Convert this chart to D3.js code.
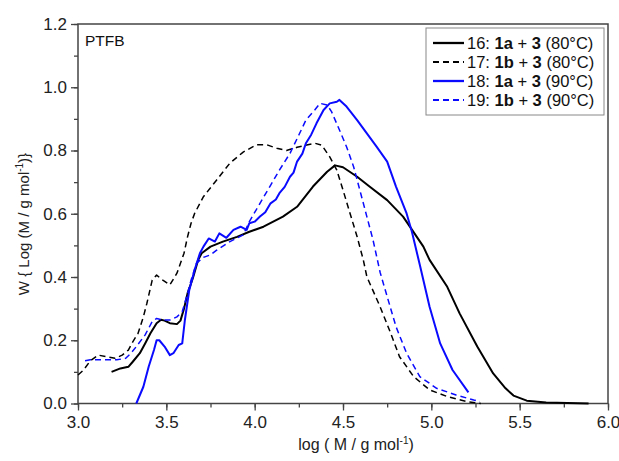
<!DOCTYPE html>
<html><head><meta charset="utf-8">
<script src="https://cdn.jsdelivr.net/npm/d3@7"></script>
<style>
html,body{margin:0;padding:0;background:#fff;}
svg text{font-family:"Liberation Sans",Arial,Helvetica,sans-serif;}
</style></head>
<body><svg id="c" width="619" height="461"></svg>
<script>
// ---- data (log M, W) ----
const s16 = [[3.19,0.10],[3.24,0.111],[3.285,0.116],[3.31,0.132],[3.35,0.159],[3.38,0.19],[3.41,0.222],[3.445,0.254],[3.47,0.265],[3.49,0.262],[3.52,0.254],[3.56,0.251],[3.58,0.262],[3.60,0.30],[3.62,0.348],[3.65,0.396],[3.68,0.454],[3.70,0.475],[3.75,0.496],[3.82,0.512],[3.90,0.527],[3.97,0.543],[4.05,0.559],[4.16,0.591],[4.24,0.622],[4.33,0.686],[4.41,0.733],[4.455,0.753],[4.50,0.747],[4.58,0.717],[4.65,0.686],[4.75,0.643],[4.84,0.591],[4.89,0.550],[4.955,0.496],[4.99,0.454],[5.09,0.369],[5.16,0.285],[5.26,0.180],[5.35,0.095],[5.42,0.048],[5.465,0.025],[5.54,0.009],[5.65,0.003],[5.89,0.0]];
const s17 = [[3.0,0.09],[3.03,0.105],[3.07,0.135],[3.115,0.153],[3.16,0.148],[3.21,0.143],[3.25,0.153],[3.285,0.169],[3.31,0.195],[3.34,0.222],[3.37,0.274],[3.39,0.317],[3.42,0.39],[3.445,0.406],[3.48,0.39],[3.52,0.375],[3.56,0.412],[3.60,0.475],[3.62,0.527],[3.64,0.57],[3.66,0.601],[3.71,0.654],[3.785,0.707],[3.86,0.760],[3.935,0.795],[4.01,0.818],[4.07,0.818],[4.125,0.807],[4.18,0.80],[4.24,0.810],[4.34,0.823],[4.38,0.817],[4.425,0.78],[4.465,0.738],[4.50,0.675],[4.54,0.601],[4.58,0.527],[4.615,0.454],[4.635,0.401],[4.71,0.306],[4.77,0.222],[4.82,0.148],[4.90,0.085],[4.99,0.043],[5.09,0.022],[5.20,0.006],[5.28,0.0]];
const s18 = [[3.33,0.0],[3.37,0.053],[3.40,0.116],[3.43,0.169],[3.445,0.20],[3.46,0.20],[3.49,0.18],[3.52,0.153],[3.54,0.159],[3.57,0.185],[3.59,0.19],[3.605,0.264],[3.63,0.359],[3.66,0.422],[3.69,0.475],[3.71,0.496],[3.74,0.522],[3.775,0.512],[3.80,0.538],[3.84,0.524],[3.88,0.549],[3.92,0.559],[3.955,0.549],[3.97,0.57],[4.00,0.575],[4.03,0.591],[4.06,0.605],[4.09,0.633],[4.12,0.645],[4.14,0.665],[4.17,0.685],[4.20,0.717],[4.22,0.730],[4.24,0.765],[4.27,0.790],[4.29,0.823],[4.32,0.850],[4.35,0.886],[4.39,0.928],[4.425,0.949],[4.465,0.954],[4.48,0.96],[4.52,0.939],[4.58,0.896],[4.635,0.854],[4.69,0.812],[4.75,0.765],[4.80,0.686],[4.86,0.601],[4.89,0.543],[4.935,0.438],[4.99,0.306],[5.05,0.19],[5.12,0.106],[5.21,0.035]];
const s19 = [[3.04,0.135],[3.07,0.138],[3.13,0.138],[3.22,0.138],[3.27,0.143],[3.30,0.159],[3.33,0.18],[3.38,0.217],[3.42,0.259],[3.445,0.269],[3.48,0.264],[3.52,0.264],[3.56,0.274],[3.59,0.29],[3.615,0.338],[3.64,0.39],[3.67,0.443],[3.71,0.462],[3.75,0.470],[3.785,0.485],[3.86,0.512],[3.935,0.533],[3.97,0.575],[4.03,0.633],[4.09,0.690],[4.14,0.738],[4.20,0.791],[4.25,0.849],[4.29,0.896],[4.34,0.928],[4.37,0.949],[4.41,0.944],[4.435,0.923],[4.48,0.865],[4.52,0.812],[4.56,0.749],[4.60,0.665],[4.635,0.591],[4.67,0.517],[4.71,0.415],[4.75,0.338],[4.80,0.243],[4.86,0.159],[4.935,0.085],[5.03,0.048],[5.14,0.027],[5.24,0.011],[5.275,0.006]];
const xTicks = [3.0,3.5,4.0,4.5,5.0,5.5,6.0];
const yTicks = [0.0,0.2,0.4,0.6,0.8,1.0,1.2];
const seriesLabels = [["16: ","1a"," + ","3"," (80°C)"],["17: ","1b"," + ","3"," (80°C)"],["18: ","1a"," + ","3"," (90°C)"],["19: ","1b"," + ","3"," (90°C)"]];
const seriesData = [s16,s17,s18,s19];
const seriesColor = ["#000000","#000000","#0a0aff","#0a0aff"];
const seriesDash = [null,"6,4",null,"6,4"];
const seriesWidth = [2,1.5,2,1.5];

// ---- layout ----
const svg = d3.select("#c");
const L=78,R=608,T=24,B=403.5;
const x = d3.scaleLinear().domain([3,6]).range([L,R]);
const y = d3.scaleLinear().domain([0,1.2]).range([B,T]);
const axisColor="#444";

// minor ticks
const gx = svg.append("g").attr("transform",`translate(0,${B})`)
  .call(d3.axisBottom(x).tickValues(d3.range(3,6.001,0.25)).tickSize(4).tickFormat(""));
const gy = svg.append("g").attr("transform",`translate(${L},0)`)
  .call(d3.axisLeft(y).tickValues(d3.range(0,1.2001,0.1)).tickSize(4).tickFormat(""));
const gx2 = svg.append("g").attr("transform",`translate(0,${B})`)
  .call(d3.axisBottom(x).tickValues(xTicks).tickSize(7).tickPadding(5).tickFormat(d3.format(".1f")));
const gy2 = svg.append("g").attr("transform",`translate(${L},0)`)
  .call(d3.axisLeft(y).tickValues(yTicks).tickSize(7).tickPadding(4).tickFormat(d3.format(".1f")));
[gx,gy,gx2,gy2].forEach(g=>{
  g.selectAll(".domain").remove();
  g.selectAll("line").attr("stroke",axisColor).attr("stroke-width",1.3);
  g.selectAll("text").attr("fill","#222").style("font-size","17px");
});
// frame
svg.append("rect").attr("x",L).attr("y",T).attr("width",R-L).attr("height",B-T)
  .attr("fill","none").attr("stroke",axisColor).attr("stroke-width",1.5);

// curves
const line = d3.line().x(d=>x(d[0])).y(d=>y(d[1]));
seriesData.forEach((s,i)=>{
  svg.append("path").datum(s).attr("d",line).attr("fill","none")
    .attr("stroke",seriesColor[i]).attr("stroke-width",seriesWidth[i])
    .attr("stroke-dasharray",seriesDash[i]).attr("stroke-linejoin","round");
});

// PTFB label
svg.append("text").attr("x",85).attr("y",46).style("font-size","15.5px").attr("fill","#111").text("PTFB");

// legend
const lg = svg.append("g");
lg.append("rect").attr("x",426).attr("y",28).attr("width",178).attr("height",87)
  .attr("fill","#fff").attr("stroke","#888").attr("stroke-width",1);
seriesLabels.forEach((lab,i)=>{
  const yy = 43 + i*19;
  lg.append("line").attr("x1",433).attr("x2",464).attr("y1",yy).attr("y2",yy)
    .attr("stroke",seriesColor[i]).attr("stroke-width",seriesWidth[i]+0.3)
    .attr("stroke-dasharray",seriesDash[i]);
  const t = lg.append("text").attr("x",467).attr("y",yy+5.5).style("font-size","16.5px").attr("fill","#111");
  lab.forEach((p,j)=>{ t.append("tspan").attr("font-weight",(j===1||j===3)?"bold":"normal").text(p); });
});

// axis titles
const xt = svg.append("text").attr("x",356).attr("y",450).attr("text-anchor","middle")
  .style("font-size","16px").attr("fill","#222");
xt.append("tspan").text("log ( M / g mol");
xt.append("tspan").attr("dy",-6).style("font-size","10px").text("-1");
xt.append("tspan").attr("dy",6).text(")");
const yt = svg.append("text").attr("transform","translate(29,224) rotate(-90)").attr("text-anchor","middle")
  .style("font-size","15px").attr("fill","#222");
yt.append("tspan").text("W { Log (M / g mol");
yt.append("tspan").attr("dy",-6).style("font-size","10px").text("-1");
yt.append("tspan").attr("dy",6).text(")}");
</script></body></html>
